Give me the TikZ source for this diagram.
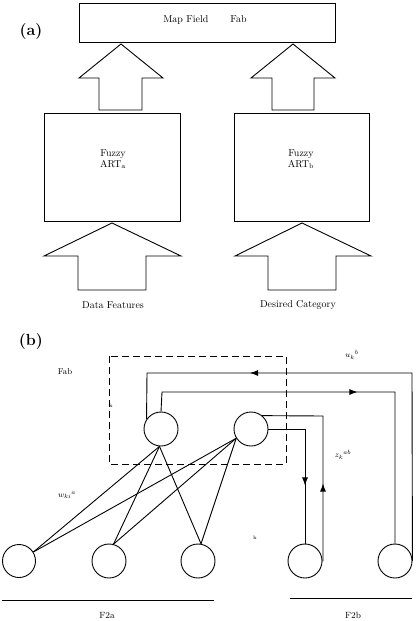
\documentclass[tikz,border=0pt]{standalone}
\usetikzlibrary{arrows.meta,decorations.markings}
\begin{document}
\begin{tikzpicture}[x=1pt,y=-1pt,
  line width=0.9pt,
  box/.style={draw,line width=0.9pt},
  blockarrow/.style={draw,line width=0.9pt,line join=miter},
  neuron/.style={draw,circle,minimum size=34pt,inner sep=0pt,line width=0.9pt},
  lbl/.style={font=\fontsize{10}{12}\selectfont,inner sep=0pt},
  part/.style={font=\fontsize{16}{18}\selectfont\bfseries,inner sep=0pt},
  wlbl/.style={font=\fontsize{8}{9}\selectfont,inner sep=0pt},
  tinyk/.style={font=\fontsize{5}{5}\selectfont,inner sep=0pt},
  arrowat/.style={postaction={decorate},decoration={markings,mark=at position #1 with {\arrow{Latex[length=8pt,width=6pt]}}}},
  dashbox/.style={draw,dash pattern=on 7pt off 4pt,line width=0.9pt}
]
\useasboundingbox (0,0) rectangle (416,621);

% ---------- (a) ----------
\node[part] (la) at (31,32) {(a)};
\draw[box] (79,3) rectangle (335,42);
\node[lbl] (mf) at (205,20) {Map Field\hspace{2.2em}Fab};

% upper block arrows
\draw[blockarrow] (121,44) -- (163,78) -- (142,78) -- (142,110) -- (99,110) -- (99,78) -- (79,78) -- cycle;
\draw[blockarrow] (293,44) -- (335,78) -- (314,78) -- (314,110) -- (272,110) -- (272,78) -- (251,78) -- cycle;

% Fuzzy ART boxes
\draw[box] (44,113) rectangle (180,221);
\draw[box] (234,113) rectangle (369,221);
\node[lbl,align=center] (arta) at (113,159) {Fuzzy\\[-1pt]ART$_{\mathrm{a}}$};
\node[lbl,align=center] (artb) at (301,159) {Fuzzy\\[-1pt]ART$_{\mathrm{b}}$};

% lower block arrows
\draw[blockarrow] (112,223) -- (181,256) -- (146,256) -- (146,290) -- (78,290) -- (78,256) -- (44,256) -- cycle;
\draw[blockarrow] (302,223) -- (371,256) -- (336,256) -- (336,290) -- (268,290) -- (268,256) -- (235,256) -- cycle;

\node[lbl] (df) at (113,305) {Data Features};
\node[lbl] (dc) at (298,305) {Desired Category};

% ---------- (b) ----------
\node[part] (lb) at (31,342) {(b)};
\node[lbl,font=\fontsize{8.5}{10}\selectfont] (fab) at (65,372) {Fab};
\draw[dashbox] (109,356) rectangle (286,464);
\node[tinyk] (k1) at (111,406) {k};
\node[tinyk] (k2) at (255,538) {k};

% neurons
\node[neuron] (L) at (161,429) {};
\node[neuron] (R) at (251,429) {};
\node[neuron,minimum size=33pt] (c1) at (19,561) {};
\node[neuron] (c2) at (109,561) {};
\node[neuron] (c3) at (198,561) {};
\node[neuron] (c4) at (305,561) {};
\node[neuron] (c5) at (395,561) {};

% fan connections
\draw (L.265) -- (c1.32);
\draw (L.265) -- (c2.75);
\draw (L.265) -- (c3.80);
\draw (R.212) -- (c1.32);
\draw (R.212) -- (c2.75);
\draw (R.212) -- (c3.80);

% feedback loops with F2b
\coordinate (u1) at (412,373);
\coordinate (u2) at (147,373);
\draw[arrowat=350pt] (c5.east) -- (u1) -- (u2) -- (L.146);
\coordinate (v1) at (162,392);
\coordinate (v2) at (395,392);
\draw[arrowat=215pt] (L.north) -- (v1) -- (v2) -- (c5.north);
\coordinate (z1) at (305,429);
\draw[arrowat=93pt] (R.east) -- (z1) -- (c4.north);
\coordinate (y1) at (323,561);
\coordinate (y2) at (323,416);
\draw[arrowat=78pt] (c4.east) -- (y1) -- (y2) -- (R.50);

% labels
\node[wlbl] (ub) at (352,355) {$u_k{}^{b}$};
\node[wlbl] (zab) at (343,455) {$z_k{}^{ab}$};
\node[wlbl] (wki) at (67,495) {$w_{ki}{}^{a}$};

% layer lines
\coordinate (f2al) at (2,600);
\coordinate (f2ar) at (214,600);
\coordinate (f2bl) at (290,598);
\coordinate (f2br) at (412,598);
\draw (f2al) -- (f2ar);
\draw (f2bl) -- (f2br);
\node[lbl,font=\fontsize{9}{10}\selectfont] (f2a) at (107,615) {F2a};
\node[lbl,font=\fontsize{9}{10}\selectfont] (f2b) at (353,615) {F2b};
\end{tikzpicture}
\end{document}
